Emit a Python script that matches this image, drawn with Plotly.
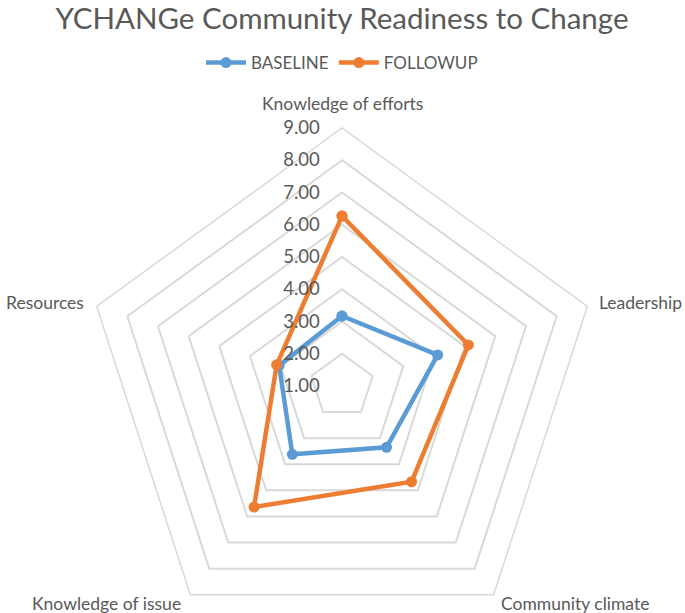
import math
import plotly.graph_objects as go

categories = ["Knowledge of efforts", "Leadership", "Community climate", "Knowledge of issue", "Resources"]
baseline = [3.17, 4.12, 3.35, 3.62, 3.05]
followup = [6.27, 5.12, 4.67, 5.64, 3.13]
tick_vals = [1, 2, 3, 4, 5, 6, 7, 8, 9]
tick_text = ["1.00", "2.00", "3.00", "4.00", "5.00", "6.00", "7.00", "8.00", "9.00"]

FONT = "Lato, 'Open Sans', sans-serif"
GRAY = "#595959"
GRID = "#d9d9d9"

def closed(v):
    return list(v) + [v[0]]

fig = go.Figure()
fig.add_trace(go.Scatterpolar(
    r=closed(baseline), theta=closed(categories), name="BASELINE",
    mode="lines+markers", line=dict(color="#5b9bd5", width=4.5),
    marker=dict(size=11, color="#5b9bd5")))
fig.add_trace(go.Scatterpolar(
    r=closed(followup), theta=closed(categories), name="FOLLOWUP",
    mode="lines+markers", line=dict(color="#ed7d31", width=4.5),
    marker=dict(size=11, color="#ed7d31")))

W, H = 685, 645
cx, cy, R = 342, 386, 258
pad = "\u00a0" * 4

# category labels placed just outside each outer vertex (offset in px, anchor)
label_style = [(0, -25, "center"), (9.6, -3.3, "left"), (5.4, 8.3, "left"),
               (-7.4, 8.3, "right"), (-10.6, -3.3, "right")]
annotations = []
n = len(categories)
for i, (cat, (dx, dy, anchor)) in enumerate(zip(categories, label_style)):
    ang = math.radians(90 - 360 / n * i)
    vx = cx + R * math.cos(ang)
    vy = cy - R * math.sin(ang)
    annotations.append(dict(text=cat, x=(vx + dx) / W, y=1 - (vy + dy) / H, xref="paper", yref="paper",
                            xanchor=anchor, yanchor="middle", showarrow=False,
                            font=dict(size=17.5, color=GRAY, family=FONT)))

fig.update_layout(
    width=W, height=H,
    margin=dict(l=0, r=0, t=0, b=0),
    paper_bgcolor="white",
    font=dict(family=FONT, color=GRAY, size=15),
    title=dict(text="YCHANGe Community Readiness to Change", x=cx / W, xanchor="center",
               y=1 - 19 / H, yanchor="middle", font=dict(size=29.5, color=GRAY, family=FONT)),
    legend=dict(orientation="h", x=cx / W, xanchor="center", y=1 - 63 / H, yanchor="middle",
                font=dict(size=17, color=GRAY, family=FONT), itemwidth=40),
    annotations=annotations,
    polar=dict(
        domain=dict(x=[(cx - R) / W, (cx + R) / W], y=[1 - (cy + R) / H, 1 - (cy - R) / H]),
        gridshape="linear",
        bgcolor="white",
        radialaxis=dict(range=[1, 9], tickvals=tick_vals, ticktext=[t + pad for t in tick_text],
                        angle=90, tickangle=90, showline=False, ticks="", gridcolor=GRID,
                        gridwidth=1.5, tickfont=dict(size=18.5, color=GRAY), side="counterclockwise"),
        angularaxis=dict(rotation=90, direction="clockwise", showgrid=False, showline=True,
                         linecolor=GRID, linewidth=1.5, ticks="", showticklabels=False),
    ),
)
fig.write_html("out.html", config={"displayModeBar": False},
               post_script="document.body.style.margin='0';document.body.style.overflow='hidden';")
